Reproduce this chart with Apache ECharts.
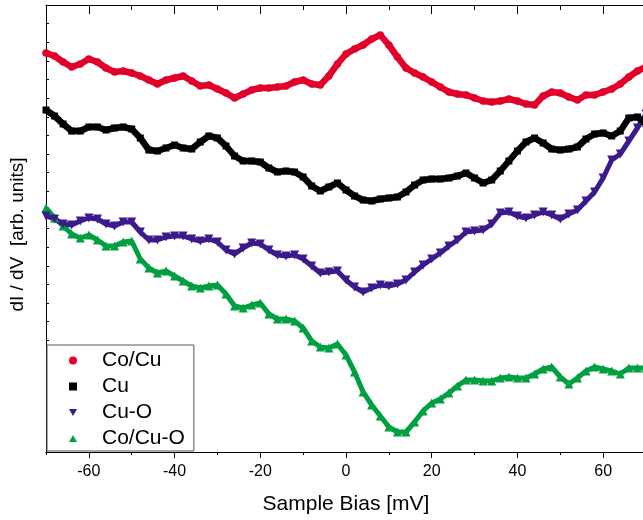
<!DOCTYPE html>
<html>
<head>
<meta charset="utf-8">
<script src="https://cdn.jsdelivr.net/npm/echarts@6/dist/echarts.min.js"></script>
<style>
  html, body { margin: 0; padding: 0; background: #fff; }
  #chart { width: 643px; height: 520px; }
</style>
</head>
<body>
<div id="chart"></div>
<script>
// Sample bias [mV]
const bias = [-70, -68, -66, -64, -62, -60, -58, -56, -54, -52, -50, -48, -46, -44, -42, -40, -38, -36,
  -34, -32, -30, -28, -26, -24, -22, -20, -18, -16, -14, -12, -10, -8, -6, -4, -2, 0, 2, 4, 6, 8, 10,
  12, 14, 16, 18, 20, 22, 24, 26, 28, 30, 32, 34, 36, 38, 40, 42, 44, 46, 48, 50, 52, 54, 56, 58, 60,
  62, 64, 66, 68, 70]

// dI/dV, arb. units (curves offset as in the figure)
const coCu = [3.99, 3.96, 3.90, 3.85, 3.88, 3.93, 3.90, 3.84, 3.80, 3.81, 3.79, 3.76, 3.72, 3.68, 3.72,
  3.74, 3.76, 3.71, 3.66, 3.67, 3.63, 3.59, 3.54, 3.58, 3.62, 3.64, 3.64, 3.65, 3.66, 3.70, 3.72, 3.68,
  3.67, 3.76, 3.88, 3.98, 4.03, 4.07, 4.13, 4.17, 4.07, 3.95, 3.84, 3.79, 3.75, 3.70, 3.65, 3.60, 3.58,
  3.57, 3.54, 3.51, 3.50, 3.51, 3.53, 3.51, 3.48, 3.47, 3.56, 3.60, 3.59, 3.55, 3.52, 3.57, 3.57, 3.60,
  3.63, 3.68, 3.75, 3.81, 3.85]
const cu = [3.42, 3.36, 3.28, 3.21, 3.21, 3.25, 3.25, 3.22, 3.24, 3.25, 3.23, 3.14, 3.02, 3.01, 3.04,
  3.07, 3.04, 3.03, 3.10, 3.16, 3.14, 3.06, 2.96, 2.91, 2.91, 2.90, 2.84, 2.80, 2.81, 2.80, 2.75, 2.66,
  2.61, 2.65, 2.69, 2.62, 2.56, 2.52, 2.51, 2.53, 2.54, 2.55, 2.60, 2.67, 2.72, 2.73, 2.73, 2.74, 2.76,
  2.79, 2.74, 2.69, 2.72, 2.81, 2.91, 3.01, 3.10, 3.14, 3.09, 3.03, 3.02, 3.03, 3.05, 3.13, 3.18, 3.19,
  3.16, 3.21, 3.34, 3.35, 3.28]
const cuO = [2.36, 2.33, 2.28, 2.27, 2.31, 2.34, 2.33, 2.28, 2.26, 2.30, 2.30, 2.20, 2.12, 2.12, 2.15,
  2.16, 2.16, 2.13, 2.11, 2.13, 2.10, 2.02, 1.98, 2.04, 2.09, 2.08, 2.02, 1.97, 1.96, 1.97, 1.93, 1.86,
  1.79, 1.80, 1.81, 1.72, 1.65, 1.60, 1.64, 1.67, 1.66, 1.68, 1.72, 1.80, 1.87, 1.93, 1.99, 2.06, 2.12,
  2.20, 2.21, 2.22, 2.28, 2.39, 2.40, 2.36, 2.34, 2.37, 2.40, 2.37, 2.33, 2.38, 2.42, 2.51, 2.60, 2.74,
  2.92, 2.98, 3.11, 3.24, 3.38]
const coCuO = [2.44, 2.34, 2.26, 2.18, 2.14, 2.17, 2.12, 2.06, 2.06, 2.10, 2.11, 1.93, 1.84, 1.79, 1.81,
  1.76, 1.71, 1.66, 1.64, 1.66, 1.67, 1.58, 1.46, 1.44, 1.47, 1.49, 1.38, 1.33, 1.33, 1.31, 1.24, 1.11,
  1.05, 1.04, 1.08, 0.97, 0.80, 0.60, 0.47, 0.36, 0.25, 0.20, 0.20, 0.30, 0.41, 0.49, 0.53, 0.59, 0.66,
  0.72, 0.72, 0.71, 0.71, 0.74, 0.75, 0.74, 0.74, 0.78, 0.83, 0.85, 0.75, 0.68, 0.74, 0.81, 0.85, 0.83,
  0.81, 0.78, 0.84, 0.84, 0.84]

const majorTicks = [-60, -40, -20, 0, 20, 40, 60]
const seriesNames = ['Co/Cu', 'Cu', 'Cu-O', 'Co/Cu-O']

const font = 'Liberation Sans, Arial, sans-serif'
const colors = ['#E2002B', '#000000', '#3D1A8C', '#00A040']

const chart = echarts.init(document.getElementById('chart'))

const pairs = ys => bias.map((x, i) => [x, ys[i]])

const mkSeries = (name, ys, color, symbol, size, width, rotate) => ({
  name,
  type: 'line',
  data: pairs(ys),
  symbol,
  symbolSize: size,
  symbolRotate: rotate || 0,
  showAllSymbol: true,
  lineStyle: { color, width },
  itemStyle: { color },
  emphasis: { disabled: true },
  clip: true
})

const axisBase = {
  type: 'value',
  min: -70,
  max: 70,
  splitLine: { show: false },
  axisLine: { onZero: false, lineStyle: { color: '#000', width: 1 } }
}

const option = {
  animation: false,
  backgroundColor: '#fff',
  grid: { left: 46, right: -3, top: 5, bottom: 68, containLabel: false, outerBoundsMode: 'none' },
  xAxis: [
    {
      ...axisBase,
      position: 'bottom',
      interval: 10,
      axisTick: { inside: false, length: 3, lineStyle: { color: '#000' } },
      axisLabel: {
        margin: 12,
        color: '#000',
        fontSize: 16,
        fontFamily: font,
        formatter: v => (majorTicks.includes(v) ? String(v) : '')
      },
      name: 'Sample Bias [mV]',
      nameLocation: 'middle',
      nameGap: 42,
      nameTextStyle: { color: '#000', fontSize: 21, fontFamily: font }
    },
    {
      ...axisBase,
      position: 'bottom',
      axisLine: { show: false, onZero: false },
      axisTick: { inside: false, length: 6, customValues: majorTicks, lineStyle: { color: '#000' } },
      axisLabel: { show: false }
    },
    {
      ...axisBase,
      position: 'top',
      interval: 10,
      axisTick: { inside: true, length: 5, lineStyle: { color: '#000' } },
      axisLabel: { show: false }
    },
    {
      ...axisBase,
      position: 'top',
      axisLine: { show: false, onZero: false },
      axisTick: { inside: true, length: 9, customValues: majorTicks, lineStyle: { color: '#000' } },
      axisLabel: { show: false }
    }
  ],
  yAxis: {
    type: 'value',
    position: 'left',
    min: 0,
    max: 4.47,
    interval: 0.18625,
    splitLine: { show: false },
    axisLine: { show: true, onZero: false, lineStyle: { color: '#000', width: 1 } },
    axisTick: { show: true, inside: true, length: 3, lineStyle: { color: '#000' } },
    axisLabel: { show: false },
    name: 'dI / dV  [arb. units]',
    nameLocation: 'middle',
    nameGap: 19,
    nameTextStyle: { color: '#000', fontSize: 19, fontFamily: font, padding: [0, 12, 0, 0] }
  },
  legend: {
    orient: 'vertical',
    left: 47,
    top: 345,
    padding: [5, 9, 2, 22],
    itemGap: 5,
    itemWidth: 8,
    itemHeight: 8,
    borderColor: '#555',
    borderWidth: 1,
    backgroundColor: '#fff',
    selectedMode: false,
    textStyle: { color: '#000', fontSize: 21, fontFamily: font, lineHeight: 21, padding: [0, 0, 0, 20] },
    data: [
      { name: seriesNames[0], icon: 'circle' },
      { name: seriesNames[1], icon: 'rect' },
      { name: seriesNames[2], icon: 'path://M0,0 L10,0 L5,9 Z' },
      { name: seriesNames[3], icon: 'path://M5,0 L10,9 L0,9 Z' }
    ]
  },
  series: [
    mkSeries(seriesNames[3], coCuO, colors[3], 'triangle', 9, 5),
    mkSeries(seriesNames[2], cuO, colors[2], 'triangle', 9, 5, 180),
    mkSeries(seriesNames[1], cu, colors[1], 'rect', 7, 6.5),
    mkSeries(seriesNames[0], coCu, colors[0], 'circle', 7.5, 6.5)
  ]
}

chart.setOption(option)

window.addEventListener('resize', () => chart.resize())
</script>
</body>
</html>
